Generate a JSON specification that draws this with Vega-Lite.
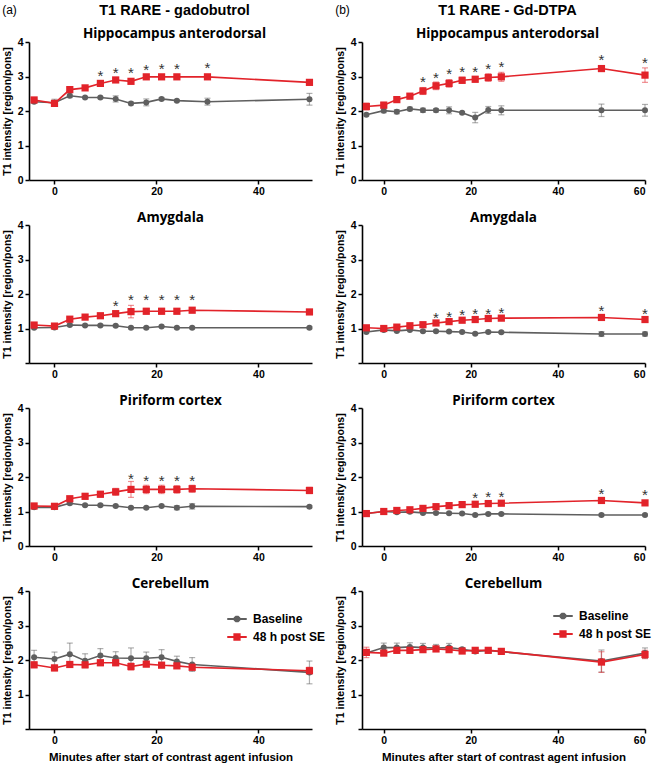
{
  "$schema": "https://vega.github.io/schema/vega-lite/v6.json",
  "background": "white",
  "padding": {"left": 2, "top": 3, "right": 2, "bottom": 2},
  "config": {
    "font": "Liberation Sans",
    "view": {"stroke": null},
    "axis": {"grid": false, "domainColor": "black", "domainWidth": 1.6, "tickColor": "black", "tickWidth": 1.5, "tickSize": 4, "labelFont": "Liberation Sans", "labelFontWeight": "bold", "labelFontSize": 10.5, "labelColor": "black", "labelPadding": 2, "titleFont": "Liberation Sans", "titleFontWeight": "bold", "titleFontSize": 10.5, "titleColor": "black"},
    "axisY": {"titlePadding": 5},
    "axisX": {"titlePadding": 6, "titleFontSize": 11.5},
    "title": {"font": "Open Sans", "fontWeight": "bold", "fontSize": 13.5, "color": "black", "offset": -4, "frame": "group", "subtitleFont": "Open Sans", "subtitleFontWeight": "bold", "subtitleFontSize": 13.5, "subtitleColor": "black", "subtitlePadding": 8}
  },
  "data": {"values": [
    {"panel":"a1","group":"Baseline","minute":-4,"mean":2.27,"sem":0.04},
    {"panel":"a1","group":"Baseline","minute":0,"mean":2.24,"sem":0.1},
    {"panel":"a1","group":"Baseline","minute":3,"mean":2.44,"sem":0.05},
    {"panel":"a1","group":"Baseline","minute":6,"mean":2.39,"sem":0.03},
    {"panel":"a1","group":"Baseline","minute":9,"mean":2.39,"sem":0.03},
    {"panel":"a1","group":"Baseline","minute":12,"mean":2.35,"sem":0.09},
    {"panel":"a1","group":"Baseline","minute":15,"mean":2.22,"sem":0.04},
    {"panel":"a1","group":"Baseline","minute":18,"mean":2.25,"sem":0.1},
    {"panel":"a1","group":"Baseline","minute":21,"mean":2.35,"sem":0.04},
    {"panel":"a1","group":"Baseline","minute":24,"mean":2.30,"sem":0.03},
    {"panel":"a1","group":"Baseline","minute":30,"mean":2.27,"sem":0.1},
    {"panel":"a1","group":"Baseline","minute":50,"mean":2.34,"sem":0.17},
    {"panel":"a1","group":"48 h post SE","minute":-4,"mean":2.32,"sem":0.04},
    {"panel":"a1","group":"48 h post SE","minute":0,"mean":2.22,"sem":0.05},
    {"panel":"a1","group":"48 h post SE","minute":3,"mean":2.62,"sem":0.05},
    {"panel":"a1","group":"48 h post SE","minute":6,"mean":2.67,"sem":0.04},
    {"panel":"a1","group":"48 h post SE","minute":9,"mean":2.80,"sem":0.05,"star":3.11},
    {"panel":"a1","group":"48 h post SE","minute":12,"mean":2.90,"sem":0.04,"star":3.18},
    {"panel":"a1","group":"48 h post SE","minute":15,"mean":2.86,"sem":0.06,"star":3.20},
    {"panel":"a1","group":"48 h post SE","minute":18,"mean":2.99,"sem":0.05,"star":3.28},
    {"panel":"a1","group":"48 h post SE","minute":21,"mean":2.99,"sem":0.05,"star":3.31},
    {"panel":"a1","group":"48 h post SE","minute":24,"mean":2.99,"sem":0.05,"star":3.31},
    {"panel":"a1","group":"48 h post SE","minute":30,"mean":2.99,"sem":0.07,"star":3.34},
    {"panel":"a1","group":"48 h post SE","minute":50,"mean":2.83,"sem":0.05},

    {"panel":"b1","group":"Baseline","minute":-4,"mean":1.89,"sem":0.03},
    {"panel":"b1","group":"Baseline","minute":0,"mean":2.01,"sem":0.06},
    {"panel":"b1","group":"Baseline","minute":3,"mean":1.98,"sem":0.06},
    {"panel":"b1","group":"Baseline","minute":6,"mean":2.06,"sem":0.05},
    {"panel":"b1","group":"Baseline","minute":9,"mean":2.02,"sem":0.06},
    {"panel":"b1","group":"Baseline","minute":12,"mean":2.02,"sem":0.05},
    {"panel":"b1","group":"Baseline","minute":15,"mean":2.02,"sem":0.1},
    {"panel":"b1","group":"Baseline","minute":18,"mean":1.95,"sem":0.03},
    {"panel":"b1","group":"Baseline","minute":21,"mean":1.81,"sem":0.15},
    {"panel":"b1","group":"Baseline","minute":24,"mean":2.03,"sem":0.1},
    {"panel":"b1","group":"Baseline","minute":27,"mean":2.02,"sem":0.13},
    {"panel":"b1","group":"Baseline","minute":50,"mean":2.02,"sem":0.18},
    {"panel":"b1","group":"Baseline","minute":60,"mean":2.02,"sem":0.17},
    {"panel":"b1","group":"48 h post SE","minute":-4,"mean":2.13,"sem":0.1},
    {"panel":"b1","group":"48 h post SE","minute":0,"mean":2.17,"sem":0.08},
    {"panel":"b1","group":"48 h post SE","minute":3,"mean":2.33,"sem":0.06},
    {"panel":"b1","group":"48 h post SE","minute":6,"mean":2.43,"sem":0.07},
    {"panel":"b1","group":"48 h post SE","minute":9,"mean":2.58,"sem":0.1,"star":2.92},
    {"panel":"b1","group":"48 h post SE","minute":12,"mean":2.73,"sem":0.11,"star":3.05},
    {"panel":"b1","group":"48 h post SE","minute":15,"mean":2.80,"sem":0.11,"star":3.16},
    {"panel":"b1","group":"48 h post SE","minute":18,"mean":2.89,"sem":0.09,"star":3.22},
    {"panel":"b1","group":"48 h post SE","minute":21,"mean":2.92,"sem":0.08,"star":3.23},
    {"panel":"b1","group":"48 h post SE","minute":24,"mean":2.97,"sem":0.11,"star":3.30},
    {"panel":"b1","group":"48 h post SE","minute":27,"mean":2.99,"sem":0.13,"star":3.35},
    {"panel":"b1","group":"48 h post SE","minute":50,"mean":3.23,"sem":0.08,"star":3.57},
    {"panel":"b1","group":"48 h post SE","minute":60,"mean":3.04,"sem":0.21,"star":3.47},

    {"panel":"a2","group":"Baseline","minute":-4,"mean":1.02,"sem":0.03},
    {"panel":"a2","group":"Baseline","minute":0,"mean":1.03,"sem":0.03},
    {"panel":"a2","group":"Baseline","minute":3,"mean":1.10,"sem":0.03},
    {"panel":"a2","group":"Baseline","minute":6,"mean":1.09,"sem":0.03},
    {"panel":"a2","group":"Baseline","minute":9,"mean":1.09,"sem":0.03},
    {"panel":"a2","group":"Baseline","minute":12,"mean":1.08,"sem":0.03},
    {"panel":"a2","group":"Baseline","minute":15,"mean":1.02,"sem":0.03},
    {"panel":"a2","group":"Baseline","minute":18,"mean":1.02,"sem":0.03},
    {"panel":"a2","group":"Baseline","minute":21,"mean":1.06,"sem":0.03},
    {"panel":"a2","group":"Baseline","minute":24,"mean":1.02,"sem":0.03},
    {"panel":"a2","group":"Baseline","minute":27,"mean":1.02,"sem":0.03},
    {"panel":"a2","group":"Baseline","minute":50,"mean":1.02,"sem":0.03},
    {"panel":"a2","group":"48 h post SE","minute":-4,"mean":1.10,"sem":0.04},
    {"panel":"a2","group":"48 h post SE","minute":0,"mean":1.07,"sem":0.04},
    {"panel":"a2","group":"48 h post SE","minute":3,"mean":1.27,"sem":0.05},
    {"panel":"a2","group":"48 h post SE","minute":6,"mean":1.33,"sem":0.05},
    {"panel":"a2","group":"48 h post SE","minute":9,"mean":1.37,"sem":0.05},
    {"panel":"a2","group":"48 h post SE","minute":12,"mean":1.43,"sem":0.07,"star":1.73},
    {"panel":"a2","group":"48 h post SE","minute":15,"mean":1.49,"sem":0.18,"star":1.90},
    {"panel":"a2","group":"48 h post SE","minute":18,"mean":1.50,"sem":0.08,"star":1.90},
    {"panel":"a2","group":"48 h post SE","minute":21,"mean":1.50,"sem":0.08,"star":1.90},
    {"panel":"a2","group":"48 h post SE","minute":24,"mean":1.50,"sem":0.07,"star":1.90},
    {"panel":"a2","group":"48 h post SE","minute":27,"mean":1.53,"sem":0.06,"star":1.90},
    {"panel":"a2","group":"48 h post SE","minute":50,"mean":1.48,"sem":0.05},

    {"panel":"b2","group":"Baseline","minute":-4,"mean":0.90,"sem":0.03},
    {"panel":"b2","group":"Baseline","minute":0,"mean":0.96,"sem":0.03},
    {"panel":"b2","group":"Baseline","minute":3,"mean":0.93,"sem":0.03},
    {"panel":"b2","group":"Baseline","minute":6,"mean":0.96,"sem":0.03},
    {"panel":"b2","group":"Baseline","minute":9,"mean":0.92,"sem":0.03},
    {"panel":"b2","group":"Baseline","minute":12,"mean":0.92,"sem":0.03},
    {"panel":"b2","group":"Baseline","minute":15,"mean":0.91,"sem":0.03},
    {"panel":"b2","group":"Baseline","minute":18,"mean":0.90,"sem":0.03},
    {"panel":"b2","group":"Baseline","minute":21,"mean":0.85,"sem":0.03},
    {"panel":"b2","group":"Baseline","minute":24,"mean":0.90,"sem":0.03},
    {"panel":"b2","group":"Baseline","minute":27,"mean":0.89,"sem":0.03},
    {"panel":"b2","group":"Baseline","minute":50,"mean":0.84,"sem":0.07},
    {"panel":"b2","group":"Baseline","minute":60,"mean":0.84,"sem":0.06},
    {"panel":"b2","group":"48 h post SE","minute":-4,"mean":1.02,"sem":0.04},
    {"panel":"b2","group":"48 h post SE","minute":0,"mean":1.00,"sem":0.03},
    {"panel":"b2","group":"48 h post SE","minute":3,"mean":1.04,"sem":0.03},
    {"panel":"b2","group":"48 h post SE","minute":6,"mean":1.08,"sem":0.03},
    {"panel":"b2","group":"48 h post SE","minute":9,"mean":1.11,"sem":0.03},
    {"panel":"b2","group":"48 h post SE","minute":12,"mean":1.16,"sem":0.04,"star":1.40},
    {"panel":"b2","group":"48 h post SE","minute":15,"mean":1.20,"sem":0.04,"star":1.43},
    {"panel":"b2","group":"48 h post SE","minute":18,"mean":1.24,"sem":0.04,"star":1.48},
    {"panel":"b2","group":"48 h post SE","minute":21,"mean":1.26,"sem":0.04,"star":1.50},
    {"panel":"b2","group":"48 h post SE","minute":24,"mean":1.29,"sem":0.04,"star":1.51},
    {"panel":"b2","group":"48 h post SE","minute":27,"mean":1.30,"sem":0.04,"star":1.55},
    {"panel":"b2","group":"48 h post SE","minute":50,"mean":1.32,"sem":0.05,"star":1.59},
    {"panel":"b2","group":"48 h post SE","minute":60,"mean":1.26,"sem":0.05,"star":1.52},

    {"panel":"a3","group":"Baseline","minute":-4,"mean":1.12,"sem":0.04},
    {"panel":"a3","group":"Baseline","minute":0,"mean":1.12,"sem":0.04},
    {"panel":"a3","group":"Baseline","minute":3,"mean":1.24,"sem":0.04},
    {"panel":"a3","group":"Baseline","minute":6,"mean":1.18,"sem":0.03},
    {"panel":"a3","group":"Baseline","minute":9,"mean":1.18,"sem":0.03},
    {"panel":"a3","group":"Baseline","minute":12,"mean":1.16,"sem":0.03},
    {"panel":"a3","group":"Baseline","minute":15,"mean":1.11,"sem":0.03},
    {"panel":"a3","group":"Baseline","minute":18,"mean":1.11,"sem":0.03},
    {"panel":"a3","group":"Baseline","minute":21,"mean":1.16,"sem":0.03},
    {"panel":"a3","group":"Baseline","minute":24,"mean":1.11,"sem":0.06},
    {"panel":"a3","group":"Baseline","minute":27,"mean":1.15,"sem":0.08},
    {"panel":"a3","group":"Baseline","minute":50,"mean":1.14,"sem":0.03},
    {"panel":"a3","group":"48 h post SE","minute":-4,"mean":1.16,"sem":0.04},
    {"panel":"a3","group":"48 h post SE","minute":0,"mean":1.15,"sem":0.04},
    {"panel":"a3","group":"48 h post SE","minute":3,"mean":1.37,"sem":0.06},
    {"panel":"a3","group":"48 h post SE","minute":6,"mean":1.44,"sem":0.08},
    {"panel":"a3","group":"48 h post SE","minute":9,"mean":1.50,"sem":0.08},
    {"panel":"a3","group":"48 h post SE","minute":12,"mean":1.57,"sem":0.1},
    {"panel":"a3","group":"48 h post SE","minute":15,"mean":1.64,"sem":0.23,"star":2.04},
    {"panel":"a3","group":"48 h post SE","minute":18,"mean":1.64,"sem":0.12,"star":1.96},
    {"panel":"a3","group":"48 h post SE","minute":21,"mean":1.64,"sem":0.12,"star":1.98},
    {"panel":"a3","group":"48 h post SE","minute":24,"mean":1.64,"sem":0.11,"star":1.98},
    {"panel":"a3","group":"48 h post SE","minute":27,"mean":1.66,"sem":0.1,"star":1.98},
    {"panel":"a3","group":"48 h post SE","minute":50,"mean":1.61,"sem":0.09},

    {"panel":"b3","group":"Baseline","minute":-4,"mean":0.94,"sem":0.03},
    {"panel":"b3","group":"Baseline","minute":0,"mean":1.00,"sem":0.03},
    {"panel":"b3","group":"Baseline","minute":3,"mean":0.98,"sem":0.03},
    {"panel":"b3","group":"Baseline","minute":6,"mean":0.99,"sem":0.03},
    {"panel":"b3","group":"Baseline","minute":9,"mean":0.96,"sem":0.03},
    {"panel":"b3","group":"Baseline","minute":12,"mean":0.96,"sem":0.03},
    {"panel":"b3","group":"Baseline","minute":15,"mean":0.95,"sem":0.03},
    {"panel":"b3","group":"Baseline","minute":18,"mean":0.94,"sem":0.03},
    {"panel":"b3","group":"Baseline","minute":21,"mean":0.90,"sem":0.03},
    {"panel":"b3","group":"Baseline","minute":24,"mean":0.93,"sem":0.03},
    {"panel":"b3","group":"Baseline","minute":27,"mean":0.93,"sem":0.03},
    {"panel":"b3","group":"Baseline","minute":50,"mean":0.90,"sem":0.03},
    {"panel":"b3","group":"Baseline","minute":60,"mean":0.90,"sem":0.03},
    {"panel":"b3","group":"48 h post SE","minute":-4,"mean":0.94,"sem":0.03},
    {"panel":"b3","group":"48 h post SE","minute":0,"mean":1.00,"sem":0.03},
    {"panel":"b3","group":"48 h post SE","minute":3,"mean":1.03,"sem":0.03},
    {"panel":"b3","group":"48 h post SE","minute":6,"mean":1.05,"sem":0.03},
    {"panel":"b3","group":"48 h post SE","minute":9,"mean":1.09,"sem":0.03},
    {"panel":"b3","group":"48 h post SE","minute":12,"mean":1.14,"sem":0.03},
    {"panel":"b3","group":"48 h post SE","minute":15,"mean":1.17,"sem":0.03},
    {"panel":"b3","group":"48 h post SE","minute":18,"mean":1.20,"sem":0.03},
    {"panel":"b3","group":"48 h post SE","minute":21,"mean":1.21,"sem":0.03,"star":1.47},
    {"panel":"b3","group":"48 h post SE","minute":24,"mean":1.23,"sem":0.03,"star":1.50},
    {"panel":"b3","group":"48 h post SE","minute":27,"mean":1.24,"sem":0.03,"star":1.50},
    {"panel":"b3","group":"48 h post SE","minute":50,"mean":1.32,"sem":0.04,"star":1.60},
    {"panel":"b3","group":"48 h post SE","minute":60,"mean":1.25,"sem":0.04,"star":1.57},

    {"panel":"a4","group":"Baseline","minute":-4,"mean":2.08,"sem":0.2},
    {"panel":"a4","group":"Baseline","minute":0,"mean":2.03,"sem":0.2},
    {"panel":"a4","group":"Baseline","minute":3,"mean":2.17,"sem":0.32},
    {"panel":"a4","group":"Baseline","minute":6,"mean":1.98,"sem":0.2},
    {"panel":"a4","group":"Baseline","minute":9,"mean":2.13,"sem":0.2},
    {"panel":"a4","group":"Baseline","minute":12,"mean":2.06,"sem":0.18},
    {"panel":"a4","group":"Baseline","minute":15,"mean":2.05,"sem":0.3},
    {"panel":"a4","group":"Baseline","minute":18,"mean":2.05,"sem":0.18},
    {"panel":"a4","group":"Baseline","minute":21,"mean":2.08,"sem":0.22},
    {"panel":"a4","group":"Baseline","minute":24,"mean":1.96,"sem":0.15},
    {"panel":"a4","group":"Baseline","minute":27,"mean":1.87,"sem":0.2},
    {"panel":"a4","group":"Baseline","minute":50,"mean":1.64,"sem":0.33},
    {"panel":"a4","group":"48 h post SE","minute":-4,"mean":1.86,"sem":0.08},
    {"panel":"a4","group":"48 h post SE","minute":0,"mean":1.77,"sem":0.08},
    {"panel":"a4","group":"48 h post SE","minute":3,"mean":1.87,"sem":0.08},
    {"panel":"a4","group":"48 h post SE","minute":6,"mean":1.86,"sem":0.08},
    {"panel":"a4","group":"48 h post SE","minute":9,"mean":1.92,"sem":0.08},
    {"panel":"a4","group":"48 h post SE","minute":12,"mean":1.92,"sem":0.08},
    {"panel":"a4","group":"48 h post SE","minute":15,"mean":1.81,"sem":0.1},
    {"panel":"a4","group":"48 h post SE","minute":18,"mean":1.88,"sem":0.07},
    {"panel":"a4","group":"48 h post SE","minute":21,"mean":1.85,"sem":0.07},
    {"panel":"a4","group":"48 h post SE","minute":24,"mean":1.83,"sem":0.07},
    {"panel":"a4","group":"48 h post SE","minute":27,"mean":1.79,"sem":0.09},
    {"panel":"a4","group":"48 h post SE","minute":50,"mean":1.69,"sem":0.1},

    {"panel":"b4","group":"Baseline","minute":-4,"mean":2.20,"sem":0.05},
    {"panel":"b4","group":"Baseline","minute":0,"mean":2.36,"sem":0.13},
    {"panel":"b4","group":"Baseline","minute":3,"mean":2.36,"sem":0.13},
    {"panel":"b4","group":"Baseline","minute":6,"mean":2.38,"sem":0.12},
    {"panel":"b4","group":"Baseline","minute":9,"mean":2.36,"sem":0.12},
    {"panel":"b4","group":"Baseline","minute":12,"mean":2.35,"sem":0.1},
    {"panel":"b4","group":"Baseline","minute":15,"mean":2.36,"sem":0.12},
    {"panel":"b4","group":"Baseline","minute":18,"mean":2.31,"sem":0.05},
    {"panel":"b4","group":"Baseline","minute":21,"mean":2.25,"sem":0.04},
    {"panel":"b4","group":"Baseline","minute":24,"mean":2.28,"sem":0.04},
    {"panel":"b4","group":"Baseline","minute":27,"mean":2.24,"sem":0.04},
    {"panel":"b4","group":"Baseline","minute":50,"mean":1.97,"sem":0.32},
    {"panel":"b4","group":"Baseline","minute":60,"mean":2.20,"sem":0.15},
    {"panel":"b4","group":"48 h post SE","minute":-4,"mean":2.22,"sem":0.15},
    {"panel":"b4","group":"48 h post SE","minute":0,"mean":2.20,"sem":0.05},
    {"panel":"b4","group":"48 h post SE","minute":3,"mean":2.28,"sem":0.07},
    {"panel":"b4","group":"48 h post SE","minute":6,"mean":2.28,"sem":0.07},
    {"panel":"b4","group":"48 h post SE","minute":9,"mean":2.30,"sem":0.08},
    {"panel":"b4","group":"48 h post SE","minute":12,"mean":2.32,"sem":0.07},
    {"panel":"b4","group":"48 h post SE","minute":15,"mean":2.30,"sem":0.06},
    {"panel":"b4","group":"48 h post SE","minute":18,"mean":2.26,"sem":0.05},
    {"panel":"b4","group":"48 h post SE","minute":21,"mean":2.28,"sem":0.04},
    {"panel":"b4","group":"48 h post SE","minute":24,"mean":2.28,"sem":0.04},
    {"panel":"b4","group":"48 h post SE","minute":27,"mean":2.25,"sem":0.04},
    {"panel":"b4","group":"48 h post SE","minute":50,"mean":1.94,"sem":0.3},
    {"panel":"b4","group":"48 h post SE","minute":60,"mean":2.16,"sem":0.12}
  ]},
  "spacing": 9,
  "resolve": {"scale": {"color": "independent"}, "legend": {"color": "independent"}},
  "hconcat": [
    {
      "title": {"text": "(a)", "anchor": "start", "frame": "bounds", "font": "Liberation Sans", "fontWeight": "normal", "fontSize": 12, "offset": -14},
      "spacing": 13,
      "resolve": {"scale": {"color": "independent"}, "legend": {"color": "independent"}},
      "vconcat": [
        {
          "width": 283, "height": 138,
          "title": {"text": "T1 RARE - gadobutrol", "subtitle": "Hippocampus anterodorsal", "font": "Liberation Sans", "fontSize": 14.5, "dx": 4},
          "transform": [{"filter": "datum.panel === 'a1'"}],
          "encoding": {
            "x": {"field": "minute", "type": "quantitative", "scale": {"domain": [-5, 50.5], "nice": false, "zero": false}, "axis": {"values": [0, 20, 40], "title": null}},
            "y": {"field": "mean", "type": "quantitative", "title": "T1 intensity [region/pons]", "scale": {"domain": [0, 4], "nice": false}, "axis": {"values": [0, 1, 2, 3, 4]}},
            "color": {"field": "group", "type": "nominal", "scale": {"domain": ["Baseline", "48 h post SE"], "range": ["#5f5f5f", "#e2232a"]}, "legend": null}
          },
          "layer": [
            {"mark": {"type": "errorbar", "thickness": 1.2, "rule": {"opacity": 0.5}, "ticks": {"size": 6, "opacity": 0.5}}, "encoding": {"yError": {"field": "sem"}}},
            {"mark": {"type": "line", "strokeWidth": 1.6}},
            {"transform": [{"filter": "datum.group === 'Baseline'"}], "mark": {"type": "point", "shape": "circle", "size": 36, "filled": true, "opacity": 1}},
            {"transform": [{"filter": "datum.group !== 'Baseline'"}], "mark": {"type": "point", "shape": "square", "size": 52, "filled": true, "opacity": 1}},
            {"transform": [{"filter": "datum.star != null"}], "mark": {"type": "text", "text": "*", "fontSize": 15, "dy": 3}, "encoding": {"y": {"field": "star", "type": "quantitative", "title": "T1 intensity [region/pons]"}, "color": {"value": "#333333"}}}
          ]
        },
        {
          "width": 283, "height": 138,
          "title": "Amygdala",
          "transform": [{"filter": "datum.panel === 'a2'"}],
          "encoding": {
            "x": {"field": "minute", "type": "quantitative", "scale": {"domain": [-5, 50.5], "nice": false, "zero": false}, "axis": {"values": [0, 20, 40], "title": null}},
            "y": {"field": "mean", "type": "quantitative", "title": "T1 intensity [region/pons]", "scale": {"domain": [0, 4], "nice": false}, "axis": {"values": [0, 1, 2, 3, 4], "labelExpr": "datum.value == 0 ? '' : datum.label"}},
            "color": {"field": "group", "type": "nominal", "scale": {"domain": ["Baseline", "48 h post SE"], "range": ["#5f5f5f", "#e2232a"]}, "legend": null}
          },
          "layer": [
            {"mark": {"type": "errorbar", "thickness": 1.2, "rule": {"opacity": 0.5}, "ticks": {"size": 6, "opacity": 0.5}}, "encoding": {"yError": {"field": "sem"}}},
            {"mark": {"type": "line", "strokeWidth": 1.6}},
            {"transform": [{"filter": "datum.group === 'Baseline'"}], "mark": {"type": "point", "shape": "circle", "size": 36, "filled": true, "opacity": 1}},
            {"transform": [{"filter": "datum.group !== 'Baseline'"}], "mark": {"type": "point", "shape": "square", "size": 52, "filled": true, "opacity": 1}},
            {"transform": [{"filter": "datum.star != null"}], "mark": {"type": "text", "text": "*", "fontSize": 15, "dy": 3}, "encoding": {"y": {"field": "star", "type": "quantitative", "title": "T1 intensity [region/pons]"}, "color": {"value": "#333333"}}}
          ]
        },
        {
          "width": 283, "height": 138,
          "title": "Piriform cortex",
          "transform": [{"filter": "datum.panel === 'a3'"}],
          "encoding": {
            "x": {"field": "minute", "type": "quantitative", "scale": {"domain": [-5, 50.5], "nice": false, "zero": false}, "axis": {"values": [0, 20, 40], "title": null}},
            "y": {"field": "mean", "type": "quantitative", "title": "T1 intensity [region/pons]", "scale": {"domain": [0, 4], "nice": false}, "axis": {"values": [0, 1, 2, 3, 4]}},
            "color": {"field": "group", "type": "nominal", "scale": {"domain": ["Baseline", "48 h post SE"], "range": ["#5f5f5f", "#e2232a"]}, "legend": null}
          },
          "layer": [
            {"mark": {"type": "errorbar", "thickness": 1.2, "rule": {"opacity": 0.5}, "ticks": {"size": 6, "opacity": 0.5}}, "encoding": {"yError": {"field": "sem"}}},
            {"mark": {"type": "line", "strokeWidth": 1.6}},
            {"transform": [{"filter": "datum.group === 'Baseline'"}], "mark": {"type": "point", "shape": "circle", "size": 36, "filled": true, "opacity": 1}},
            {"transform": [{"filter": "datum.group !== 'Baseline'"}], "mark": {"type": "point", "shape": "square", "size": 52, "filled": true, "opacity": 1}},
            {"transform": [{"filter": "datum.star != null"}], "mark": {"type": "text", "text": "*", "fontSize": 15, "dy": 3}, "encoding": {"y": {"field": "star", "type": "quantitative", "title": "T1 intensity [region/pons]"}, "color": {"value": "#333333"}}}
          ]
        },
        {
          "width": 283, "height": 138,
          "title": "Cerebellum",
          "transform": [{"filter": "datum.panel === 'a4'"}],
          "encoding": {
            "x": {"field": "minute", "type": "quantitative", "title": "Minutes after start of contrast agent infusion", "scale": {"domain": [-5, 50.5], "nice": false, "zero": false}, "axis": {"values": [0, 20, 40]}},
            "y": {"field": "mean", "type": "quantitative", "title": "T1 intensity [region/pons]", "scale": {"domain": [0, 4], "nice": false}, "axis": {"values": [0, 1, 2, 3, 4], "labelExpr": "datum.value == 0 ? '' : datum.label"}},
            "color": {"field": "group", "type": "nominal", "scale": {"domain": ["Baseline", "48 h post SE"], "range": ["#5f5f5f", "#e2232a"]}, "legend": {"title": null, "orient": "none", "legendX": 197, "legendY": 17, "labelFont": "Liberation Sans", "labelFontSize": 12, "labelFontWeight": "bold", "labelColor": "black", "labelOffset": 5, "rowPadding": 0, "symbolSize": 380, "symbolStrokeWidth": 2, "encode": {"symbols": {"update": {"shape": {"signal": "datum.value === 'Baseline' ? 'M-1,0H1M0.24,0.1L0.1,0.24L-0.1,0.24L-0.24,0.1L-0.24,-0.1L-0.1,-0.24L0.1,-0.24L0.24,-0.1Z' : 'M-1,0H1M-0.27,-0.27H0.27V0.27H-0.27Z'"}, "fill": {"signal": "datum.value === 'Baseline' ? '#5f5f5f' : '#e2232a'"}, "stroke": {"signal": "datum.value === 'Baseline' ? '#5f5f5f' : '#e2232a'"}, "opacity": {"value": 1}, "strokeWidth": {"value": 2}}}}}}
          },
          "layer": [
            {"mark": {"type": "errorbar", "thickness": 1.2, "rule": {"opacity": 0.5}, "ticks": {"size": 6, "opacity": 0.5}}, "encoding": {"yError": {"field": "sem"}}},
            {"mark": {"type": "line", "strokeWidth": 1.6}},
            {"transform": [{"filter": "datum.group === 'Baseline'"}], "mark": {"type": "point", "shape": "circle", "size": 36, "filled": true, "opacity": 1}},
            {"transform": [{"filter": "datum.group !== 'Baseline'"}], "mark": {"type": "point", "shape": "square", "size": 52, "filled": true, "opacity": 1}}
          ]
        }
      ]
    },
    {
      "title": {"text": "(b)", "anchor": "start", "frame": "bounds", "font": "Liberation Sans", "fontWeight": "normal", "fontSize": 12, "offset": -14},
      "spacing": 13,
      "resolve": {"scale": {"color": "independent"}, "legend": {"color": "independent"}},
      "vconcat": [
        {
          "width": 283, "height": 138,
          "title": {"text": "T1 RARE - Gd-DTPA", "subtitle": "Hippocampus anterodorsal", "font": "Liberation Sans", "fontSize": 14.5, "dx": 4},
          "transform": [{"filter": "datum.panel === 'b1'"}],
          "encoding": {
            "x": {"field": "minute", "type": "quantitative", "scale": {"domain": [-5, 60], "nice": false, "zero": false}, "axis": {"values": [0, 20, 40, 60], "title": null}},
            "y": {"field": "mean", "type": "quantitative", "title": "T1 intensity [region/pons]", "scale": {"domain": [0, 4], "nice": false}, "axis": {"values": [0, 1, 2, 3, 4]}},
            "color": {"field": "group", "type": "nominal", "scale": {"domain": ["Baseline", "48 h post SE"], "range": ["#5f5f5f", "#e2232a"]}, "legend": null}
          },
          "layer": [
            {"mark": {"type": "errorbar", "thickness": 1.2, "rule": {"opacity": 0.5}, "ticks": {"size": 6, "opacity": 0.5}}, "encoding": {"yError": {"field": "sem"}}},
            {"mark": {"type": "line", "strokeWidth": 1.6}},
            {"transform": [{"filter": "datum.group === 'Baseline'"}], "mark": {"type": "point", "shape": "circle", "size": 36, "filled": true, "opacity": 1}},
            {"transform": [{"filter": "datum.group !== 'Baseline'"}], "mark": {"type": "point", "shape": "square", "size": 52, "filled": true, "opacity": 1}},
            {"transform": [{"filter": "datum.star != null"}], "mark": {"type": "text", "text": "*", "fontSize": 15, "dy": 3}, "encoding": {"y": {"field": "star", "type": "quantitative", "title": "T1 intensity [region/pons]"}, "color": {"value": "#333333"}}}
          ]
        },
        {
          "width": 283, "height": 138,
          "title": "Amygdala",
          "transform": [{"filter": "datum.panel === 'b2'"}],
          "encoding": {
            "x": {"field": "minute", "type": "quantitative", "scale": {"domain": [-5, 60], "nice": false, "zero": false}, "axis": {"values": [0, 20, 40, 60], "title": null}},
            "y": {"field": "mean", "type": "quantitative", "title": "T1 intensity [region/pons]", "scale": {"domain": [0, 4], "nice": false}, "axis": {"values": [0, 1, 2, 3, 4], "labelExpr": "datum.value == 0 ? '' : datum.label"}},
            "color": {"field": "group", "type": "nominal", "scale": {"domain": ["Baseline", "48 h post SE"], "range": ["#5f5f5f", "#e2232a"]}, "legend": null}
          },
          "layer": [
            {"mark": {"type": "errorbar", "thickness": 1.2, "rule": {"opacity": 0.5}, "ticks": {"size": 6, "opacity": 0.5}}, "encoding": {"yError": {"field": "sem"}}},
            {"mark": {"type": "line", "strokeWidth": 1.6}},
            {"transform": [{"filter": "datum.group === 'Baseline'"}], "mark": {"type": "point", "shape": "circle", "size": 36, "filled": true, "opacity": 1}},
            {"transform": [{"filter": "datum.group !== 'Baseline'"}], "mark": {"type": "point", "shape": "square", "size": 52, "filled": true, "opacity": 1}},
            {"transform": [{"filter": "datum.star != null"}], "mark": {"type": "text", "text": "*", "fontSize": 15, "dy": 3}, "encoding": {"y": {"field": "star", "type": "quantitative", "title": "T1 intensity [region/pons]"}, "color": {"value": "#333333"}}}
          ]
        },
        {
          "width": 283, "height": 138,
          "title": "Piriform cortex",
          "transform": [{"filter": "datum.panel === 'b3'"}],
          "encoding": {
            "x": {"field": "minute", "type": "quantitative", "scale": {"domain": [-5, 60], "nice": false, "zero": false}, "axis": {"values": [0, 20, 40, 60], "title": null}},
            "y": {"field": "mean", "type": "quantitative", "title": "T1 intensity [region/pons]", "scale": {"domain": [0, 4], "nice": false}, "axis": {"values": [0, 1, 2, 3, 4]}},
            "color": {"field": "group", "type": "nominal", "scale": {"domain": ["Baseline", "48 h post SE"], "range": ["#5f5f5f", "#e2232a"]}, "legend": null}
          },
          "layer": [
            {"mark": {"type": "errorbar", "thickness": 1.2, "rule": {"opacity": 0.5}, "ticks": {"size": 6, "opacity": 0.5}}, "encoding": {"yError": {"field": "sem"}}},
            {"mark": {"type": "line", "strokeWidth": 1.6}},
            {"transform": [{"filter": "datum.group === 'Baseline'"}], "mark": {"type": "point", "shape": "circle", "size": 36, "filled": true, "opacity": 1}},
            {"transform": [{"filter": "datum.group !== 'Baseline'"}], "mark": {"type": "point", "shape": "square", "size": 52, "filled": true, "opacity": 1}},
            {"transform": [{"filter": "datum.star != null"}], "mark": {"type": "text", "text": "*", "fontSize": 15, "dy": 3}, "encoding": {"y": {"field": "star", "type": "quantitative", "title": "T1 intensity [region/pons]"}, "color": {"value": "#333333"}}}
          ]
        },
        {
          "width": 283, "height": 138,
          "title": "Cerebellum",
          "transform": [{"filter": "datum.panel === 'b4'"}],
          "encoding": {
            "x": {"field": "minute", "type": "quantitative", "title": "Minutes after start of contrast agent infusion", "scale": {"domain": [-5, 60], "nice": false, "zero": false}, "axis": {"values": [0, 20, 40, 60]}},
            "y": {"field": "mean", "type": "quantitative", "title": "T1 intensity [region/pons]", "scale": {"domain": [0, 4], "nice": false}, "axis": {"values": [0, 1, 2, 3, 4], "labelExpr": "datum.value == 0 ? '' : datum.label"}},
            "color": {"field": "group", "type": "nominal", "scale": {"domain": ["Baseline", "48 h post SE"], "range": ["#5f5f5f", "#e2232a"]}, "legend": {"title": null, "orient": "none", "legendX": 190, "legendY": 14, "labelFont": "Liberation Sans", "labelFontSize": 12, "labelFontWeight": "bold", "labelColor": "black", "labelOffset": 5, "rowPadding": 0, "symbolSize": 380, "symbolStrokeWidth": 2, "encode": {"symbols": {"update": {"shape": {"signal": "datum.value === 'Baseline' ? 'M-1,0H1M0.24,0.1L0.1,0.24L-0.1,0.24L-0.24,0.1L-0.24,-0.1L-0.1,-0.24L0.1,-0.24L0.24,-0.1Z' : 'M-1,0H1M-0.27,-0.27H0.27V0.27H-0.27Z'"}, "fill": {"signal": "datum.value === 'Baseline' ? '#5f5f5f' : '#e2232a'"}, "stroke": {"signal": "datum.value === 'Baseline' ? '#5f5f5f' : '#e2232a'"}, "opacity": {"value": 1}, "strokeWidth": {"value": 2}}}}}}
          },
          "layer": [
            {"mark": {"type": "errorbar", "thickness": 1.2, "rule": {"opacity": 0.5}, "ticks": {"size": 6, "opacity": 0.5}}, "encoding": {"yError": {"field": "sem"}}},
            {"mark": {"type": "line", "strokeWidth": 1.6}},
            {"transform": [{"filter": "datum.group === 'Baseline'"}], "mark": {"type": "point", "shape": "circle", "size": 36, "filled": true, "opacity": 1}},
            {"transform": [{"filter": "datum.group !== 'Baseline'"}], "mark": {"type": "point", "shape": "square", "size": 52, "filled": true, "opacity": 1}}
          ]
        }
      ]
    }
  ]
}
